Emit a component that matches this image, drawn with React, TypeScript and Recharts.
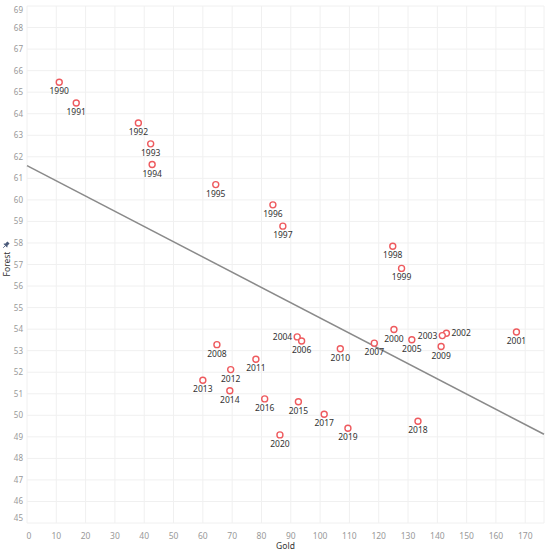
import { ScatterChart, Scatter, XAxis, YAxis, CartesianGrid, ReferenceLine, Label } from 'recharts';

const years = [
  1990, 1991, 1992, 1993, 1994, 1995, 1996, 1997, 1998, 1999,
  2000, 2001, 2002, 2003, 2004, 2005, 2006, 2007, 2008, 2009,
  2010, 2011, 2012, 2013, 2014, 2015, 2016, 2017, 2018, 2019, 2020,
];
const gold = [
  11.0, 16.8, 38.0, 42.2, 42.7, 64.4, 83.9, 87.3, 124.8, 127.8,
  125.2, 167.0, 143.1, 141.7, 92.2, 131.3, 93.7, 118.5, 64.8, 141.3,
  106.9, 78.1, 69.5, 60.0, 69.2, 92.6, 81.1, 101.4, 133.4, 109.5, 86.3,
];
const forest = [
  65.46, 64.5, 63.57, 62.6, 61.64, 60.71, 59.77, 58.78, 57.85, 56.82,
  53.98, 53.87, 53.81, 53.7, 53.64, 53.51, 53.45, 53.35, 53.28, 53.19,
  53.09, 52.6, 52.12, 51.63, 51.14, 50.63, 50.76, 50.05, 49.72, 49.4, 49.09,
];

// trend line end points (gold, forest)
const trendGold = [0, 176.4];
const trendForest = [61.59, 49.12];

const xTicks = [0, 10, 20, 30, 40, 50, 60, 70, 80, 90, 100, 110, 120, 130, 140, 150, 160, 170];
const yTicks = [45, 46, 47, 48, 49, 50, 51, 52, 53, 54, 55, 56, 57, 58, 59, 60, 61, 62, 63, 64, 65, 66, 67, 68, 69];

const labelSide: Record<number, 'left' | 'right'> = { 2002: 'right', 2003: 'left', 2004: 'left' };

const data = years.map((year, i) => ({ year, gold: gold[i], forest: forest[i] }));

const FONT = '"Noto Sans", sans-serif';
const RED = '#ee5a5e';

function PointShape(props: any) {
  const { cx, cy, payload } = props;
  const side = labelSide[payload.year];
  let tx = cx;
  let ty = cy + 12;
  let anchor: 'middle' | 'start' | 'end' = 'middle';
  if (side === 'left') {
    tx = cx - 5;
    ty = cy + 3;
    anchor = 'end';
  } else if (side === 'right') {
    tx = cx + 5;
    ty = cy + 3;
    anchor = 'start';
  }
  return (
    <g>
      <circle cx={cx} cy={cy} r={3} fill="#fff" stroke={RED} strokeWidth={1.4} />
      <text x={tx} y={ty} textAnchor={anchor} fontSize={8.5} fill="#333" fontFamily={FONT}>
        {payload.year}
      </text>
    </g>
  );
}

function XTick(props: any) {
  const { x, y, payload } = props;
  const px = Math.max(x, 29);
  return (
    <text x={px} y={y + 8} textAnchor="middle" fontSize={8.5} fill="#999" fontFamily={FONT}>
      {payload.value}
    </text>
  );
}

function YTick(props: any) {
  const { y, payload } = props;
  const py = Math.min(Math.max(y, 9.5), 518);
  return (
    <text x={23} y={py + 3} textAnchor="end" fontSize={8} fill="#999" fontFamily={FONT}>
      {payload.value}
    </text>
  );
}

function ForestLabel() {
  return (
    <g>
      <g transform="translate(6,245) rotate(45)">
        <rect x={-1.5} y={-3.5} width={3} height={4} fill="#4a5a7a" />
        <rect x={-2.5} y={0} width={5} height={1} fill="#4a5a7a" />
        <line x1={0} y1={1} x2={0} y2={4} stroke="#4a5a7a" strokeWidth={0.8} />
      </g>
      <text
        x={10}
        y={264}
        transform="rotate(-90, 10, 264)"
        textAnchor="middle"
        fontSize={8.5}
        fill="#333"
        fontFamily={FONT}
      >
        Forest
      </text>
    </g>
  );
}

export default function App() {
  return (
    <div style={{ position: 'absolute', left: 0, top: 0, width: 550, height: 550, background: '#fff' }}>
      <ScatterChart width={550} height={550} margin={{ top: 6, right: 6, left: 0, bottom: 0 }}>
        <CartesianGrid stroke="#f0f0f0" strokeWidth={1} />
        <XAxis
          type="number"
          dataKey="gold"
          domain={[0, 176.4]}
          ticks={xTicks}
          axisLine={false}
          tickLine={false}
          height={27}
          tick={<XTick />}
          interval={0}
        >
          <Label value="Gold" position="insideBottom" offset={1} fontSize={8.5} fill="#333" fontFamily={FONT} />
        </XAxis>
        <YAxis
          type="number"
          dataKey="forest"
          domain={[45, 69]}
          ticks={yTicks}
          axisLine={false}
          tickLine={false}
          width={27}
          tick={<YTick />}
          interval={0}
        >
          <Label content={<ForestLabel />} />
        </YAxis>
        <ReferenceLine
          segment={[
            { x: trendGold[0], y: trendForest[0] },
            { x: trendGold[1], y: trendForest[1] },
          ]}
          stroke="#8a8a8a"
          strokeWidth={1.5}
          ifOverflow="visible"
        />
        <Scatter data={data} shape={<PointShape />} isAnimationActive={false} />
      </ScatterChart>
    </div>
  );
}
